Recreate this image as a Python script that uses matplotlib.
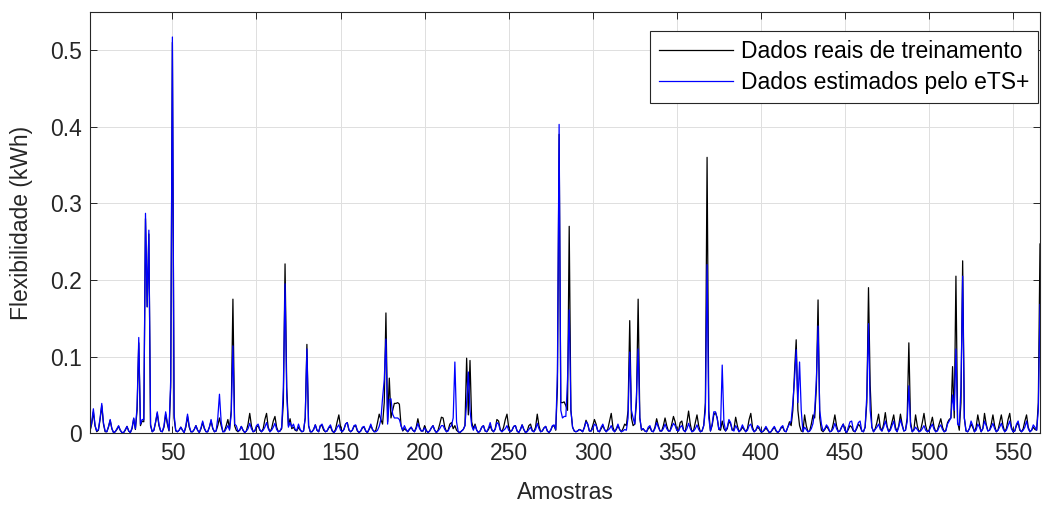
import numpy as np
import matplotlib
matplotlib.use('Agg')
import matplotlib.pyplot as plt

# Flexibilidade por amostra, em Wh (convertida para kWh abaixo)
real_wh = [
    3, 12, 28, 10, 2, 4, 18, 36, 12, 2,
    2, 8, 17, 6, 1, 2, 5, 9, 4, 1,
    1, 4, 9, 3, 1, 6, 19, 5, 30, 118,
    10, 16, 15, 280, 165, 260, 10, 2, 4, 14,
    26, 10, 3, 2, 8, 25, 12, 3, 60, 510,
    20, 3, 2, 4, 8, 4, 1, 8, 22, 8,
    2, 2, 5, 10, 4, 1, 6, 14, 6, 2,
    2, 8, 16, 6, 2, 3, 10, 20, 10, 2,
    3, 10, 18, 6, 30, 175, 10, 4, 2, 4,
    9, 4, 1, 3, 12, 26, 10, 2, 3, 8,
    10, 4, 2, 6, 18, 26, 8, 2, 6, 16,
    22, 8, 2, 3, 6, 40, 221, 60, 10, 19,
    6, 8, 4, 3, 8, 4, 2, 3, 20, 116,
    10, 2, 2, 5, 11, 4, 2, 10, 10, 4,
    2, 3, 7, 9, 3, 1, 5, 15, 24, 8,
    2, 5, 12, 14, 4, 2, 4, 9, 10, 3,
    1, 3, 7, 8, 3, 1, 5, 10, 5, 2,
    4, 14, 25, 18, 12, 40, 157, 15, 72, 20,
    30, 39, 39, 40, 38, 10, 3, 6, 4, 2,
    5, 8, 4, 2, 8, 19, 8, 3, 3, 10,
    4, 1, 3, 7, 10, 4, 1, 4, 12, 21,
    20, 8, 2, 4, 12, 14, 6, 10, 4, 2,
    1, 3, 5, 10, 98, 24, 95, 15, 6, 12,
    4, 1, 3, 8, 10, 3, 2, 5, 10, 4,
    2, 6, 18, 16, 5, 2, 8, 18, 25, 8,
    2, 4, 9, 10, 3, 1, 5, 11, 5, 1,
    3, 10, 12, 4, 2, 8, 25, 10, 2, 3,
    7, 9, 3, 1, 4, 9, 10, 4, 60, 390,
    40, 40, 41, 36, 30, 270, 30, 8, 3, 2,
    3, 5, 4, 2, 8, 17, 12, 3, 3, 10,
    18, 12, 3, 2, 6, 10, 5, 2, 6, 16,
    26, 8, 2, 5, 10, 5, 2, 6, 12, 10,
    30, 147, 20, 10, 12, 40, 175, 20, 4, 6,
    3, 2, 6, 8, 3, 2, 8, 19, 10, 3,
    3, 10, 20, 10, 3, 3, 12, 22, 15, 4,
    3, 14, 16, 4, 2, 14, 29, 12, 2, 4,
    14, 24, 10, 2, 3, 10, 40, 360, 30, 3,
    10, 24, 27, 20, 5, 4, 16, 6, 3, 6,
    16, 12, 4, 6, 21, 10, 2, 4, 8, 5,
    2, 6, 18, 26, 8, 2, 4, 8, 6, 2,
    2, 4, 7, 4, 1, 2, 5, 8, 3, 1,
    3, 7, 8, 3, 2, 8, 15, 10, 30, 80,
    122, 30, 10, 3, 2, 24, 10, 2, 3, 12,
    24, 20, 60, 174, 20, 4, 2, 5, 9, 6,
    2, 3, 12, 24, 10, 2, 3, 8, 12, 4,
    1, 5, 10, 8, 3, 2, 6, 12, 9, 3,
    2, 8, 40, 190, 63, 8, 2, 6, 14, 25,
    8, 3, 12, 27, 10, 2, 6, 15, 24, 8,
    2, 10, 25, 12, 3, 4, 20, 118, 15, 2,
    5, 24, 10, 2, 4, 14, 26, 10, 2, 4,
    12, 21, 8, 2, 4, 12, 19, 8, 2, 4,
    14, 18, 20, 87, 20, 205, 15, 4, 40, 225,
    20, 3, 2, 6, 12, 8, 2, 8, 24, 12,
    2, 6, 26, 12, 3, 4, 12, 24, 10, 2,
    4, 14, 24, 10, 2, 6, 18, 26, 8, 2,
    3, 10, 14, 4, 2, 6, 16, 24, 8, 2,
    4, 8, 5, 4, 40, 247,
]

ets_wh = [
    3, 14, 32, 10, 3, 5, 20, 39, 14, 3,
    2, 9, 18, 6, 1, 2, 6, 10, 4, 1,
    1, 5, 9, 3, 1, 7, 20, 6, 35, 125,
    12, 18, 18, 287, 165, 265, 12, 2, 4, 15,
    28, 12, 3, 2, 10, 28, 14, 4, 70, 517,
    25, 4, 2, 4, 8, 4, 1, 10, 25, 10,
    2, 2, 5, 10, 4, 1, 7, 16, 7, 2,
    2, 8, 18, 7, 2, 3, 20, 51, 15, 2,
    2, 6, 10, 4, 25, 114, 12, 10, 3, 4,
    9, 4, 1, 3, 6, 13, 6, 2, 3, 10,
    12, 5, 2, 4, 8, 14, 6, 2, 4, 8,
    13, 5, 2, 3, 8, 60, 195, 50, 8, 14,
    8, 12, 5, 4, 12, 5, 2, 3, 20, 110,
    10, 2, 2, 5, 11, 4, 2, 10, 12, 6,
    2, 3, 8, 11, 4, 1, 3, 8, 11, 4,
    2, 5, 12, 14, 5, 2, 4, 10, 11, 4,
    1, 3, 8, 9, 3, 1, 6, 12, 5, 2,
    2, 4, 9, 18, 46, 70, 123, 12, 44, 45,
    25, 20, 20, 20, 18, 10, 4, 10, 5, 2,
    6, 8, 4, 2, 6, 13, 6, 3, 3, 7,
    3, 1, 3, 7, 10, 4, 1, 3, 6, 10,
    10, 5, 2, 3, 8, 10, 20, 93, 15, 2,
    1, 3, 5, 10, 40, 80, 30, 10, 4, 10,
    4, 1, 3, 8, 10, 3, 2, 7, 14, 5,
    2, 5, 14, 12, 4, 2, 4, 6, 10, 4,
    2, 4, 9, 10, 3, 1, 5, 11, 5, 1,
    2, 5, 8, 3, 2, 5, 13, 6, 2, 3,
    7, 9, 3, 1, 4, 10, 11, 5, 80, 403,
    30, 20, 22, 22, 70, 161, 30, 8, 3, 2,
    3, 5, 4, 2, 7, 15, 12, 3, 3, 6,
    12, 10, 3, 2, 8, 12, 5, 2, 4, 6,
    10, 4, 2, 6, 12, 5, 2, 3, 5, 4,
    20, 106, 30, 20, 12, 50, 110, 20, 5, 6,
    3, 2, 8, 10, 3, 2, 6, 14, 8, 3,
    3, 6, 12, 6, 3, 3, 8, 13, 10, 4,
    3, 8, 10, 4, 2, 6, 13, 6, 2, 3,
    6, 11, 5, 2, 3, 10, 30, 220, 20, 3,
    12, 28, 28, 20, 5, 8, 89, 15, 3, 8,
    18, 14, 4, 3, 10, 6, 2, 5, 11, 6,
    2, 4, 10, 12, 5, 2, 4, 10, 8, 2,
    2, 5, 9, 5, 1, 2, 6, 9, 4, 1,
    3, 8, 10, 3, 2, 8, 12, 16, 40, 70,
    109, 40, 93, 30, 2, 8, 5, 2, 3, 6,
    13, 30, 70, 140, 30, 12, 3, 6, 11, 8,
    2, 3, 6, 13, 6, 2, 3, 8, 12, 4,
    1, 8, 15, 16, 4, 2, 8, 14, 16, 3,
    2, 8, 50, 143, 30, 8, 2, 5, 8, 12,
    5, 3, 8, 16, 8, 2, 4, 10, 16, 5,
    2, 8, 18, 10, 3, 4, 15, 62, 10, 2,
    4, 8, 5, 2, 3, 6, 10, 4, 2, 3,
    8, 12, 5, 2, 3, 8, 11, 5, 2, 3,
    12, 16, 20, 50, 30, 110, 12, 10, 60, 205,
    20, 3, 2, 6, 16, 10, 2, 4, 12, 8,
    2, 6, 16, 10, 3, 4, 8, 13, 6, 2,
    4, 8, 13, 6, 2, 4, 10, 16, 6, 2,
    3, 12, 16, 5, 2, 4, 8, 16, 6, 2,
    4, 11, 8, 4, 30, 168,
]

x_ticks = [50, 100, 150, 200, 250, 300, 350, 400, 450, 500, 550]
y_ticks = [0, 0.1, 0.2, 0.3, 0.4, 0.5]
y_ticklabels = ['0', '0.1', '0.2', '0.3', '0.4', '0.5']
labels = ['Dados reais de treinamento', 'Dados estimados pelo eTS+']

real = np.array(real_wh) / 1000.0
ets = np.array(ets_wh) / 1000.0

plt.rcParams['font.family'] = ['Liberation Sans', 'DejaVu Sans']
plt.rcParams['font.size'] = 16.5

axc = '#262626'
fig = plt.figure(figsize=(10.62, 5.11), dpi=100)
ax = fig.add_axes([90 / 1062, 1 - 433.3 / 511, 950 / 1062, 421.6 / 511])

ax.plot(np.arange(1, len(real) + 1), real, color='k', lw=0.9, label=labels[0])
ax.plot(np.arange(1, len(ets) + 1), ets, color=(0, 0, 1), lw=0.9, label=labels[1])

ax.set_xlim(1, 566)
ax.set_ylim(0, 0.55)
ax.set_xticks(x_ticks)
ax.set_yticks(y_ticks)
ax.set_yticklabels(y_ticklabels)
ax.grid(True, color='#dfdfdf', lw=0.7)
ax.set_axisbelow(True)
ax.tick_params(direction='in', length=5, width=0.7, colors=axc, labelcolor=axc,
               top=True, right=True, labeltop=False, labelright=False, pad=6)
for sp in ax.spines.values():
    sp.set_color(axc)
    sp.set_linewidth(0.8)

ax.set_xlabel('Amostras', color=axc, labelpad=12)
ax.set_ylabel('Flexibilidade (kWh)', color=axc, labelpad=12)

leg = ax.legend(loc='upper right', bbox_to_anchor=(0.998, 0.954), borderaxespad=0,
                fancybox=False, framealpha=1, edgecolor=axc, handlelength=3.2,
                handletextpad=0.35, labelspacing=0.34, borderpad=0.4)
leg.get_frame().set_linewidth(0.8)

fig.savefig('out.png', dpi=100)
